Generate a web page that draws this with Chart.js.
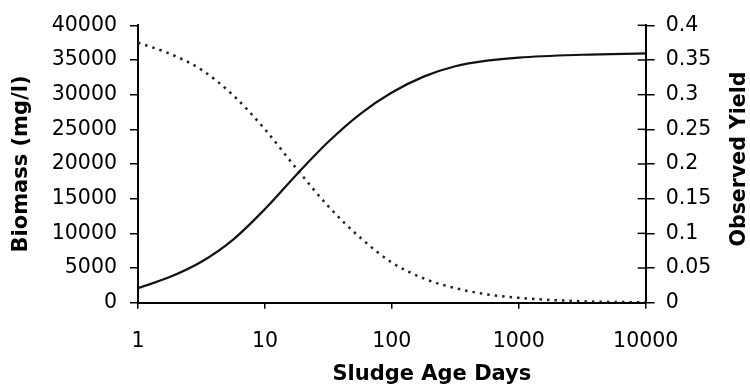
<!DOCTYPE html>
<html>
<head>
<meta charset="utf-8">
<script src="https://cdn.jsdelivr.net/npm/chart.js@4/dist/chart.umd.min.js"></script>
<style>
  html, body { margin: 0; padding: 0; background: #fff; }
  #wrap { width: 750px; height: 387px; }
</style>
</head>
<body>
<div id="wrap"><canvas id="sludgeChart" width="750" height="387"></canvas></div>
<script>
const sludgeAge = [1, 1.78, 3.16, 5.62, 10, 17.8, 31.6, 56.2, 100, 178, 316, 562, 1000, 3160, 10000];
const biomass = [2100, 3700, 5900, 9100, 13500, 18500, 23200, 27200, 30300, 32600, 34100, 34900, 35350, 35750, 35950];
const observedYield = [0.375, 0.359, 0.336, 0.299, 0.25, 0.193, 0.139, 0.094, 0.058, 0.035, 0.021, 0.012, 0.007, 0.002, 0.0005];
const xTicks = [1, 10, 100, 1000, 10000];
const biomassTicks = [0, 5000, 10000, 15000, 20000, 25000, 30000, 35000, 40000];
const yieldTicks = [0, 0.05, 0.1, 0.15, 0.2, 0.25, 0.3, 0.35, 0.4];

const FONT = "'DejaVu Sans', sans-serif";

// titles the library can't place the way the picture does
const axisTitles = {
  id: "axisTitles",
  afterDraw(chart) {
    const { ctx, chartArea } = chart;
    ctx.save();
    ctx.fillStyle = "#000";
    ctx.textAlign = "center";
    ctx.textBaseline = "middle";
    ctx.font = "bold 21px " + FONT;
    ctx.fillText("Sludge Age Days", (chartArea.left + chartArea.right) / 2 + 40, 375);
    ctx.font = "bold 20.5px " + FONT;
    ctx.translate(740, 159);
    ctx.rotate(-Math.PI / 2);
    ctx.fillText("Observed Yield", 0, 0);
    ctx.restore();
  }
};

// right axis ticks cross the line
const innerTicks = {
  id: "innerTicks",
  afterDatasetsDraw(chart) {
    const s = chart.scales.y2;
    const ctx = chart.ctx;
    ctx.save();
    ctx.strokeStyle = "#000";
    ctx.lineWidth = 1.5;
    s.ticks.forEach(t => {
      const y = s.getPixelForValue(t.value);
      ctx.beginPath();
      ctx.moveTo(s.left - 8, y);
      ctx.lineTo(s.left, y);
      ctx.stroke();
    });
    ctx.restore();
  }
};

new Chart(document.getElementById("sludgeChart"), {
  type: "line",
  data: {
    datasets: [{
      label: "Biomass",
      data: sludgeAge.map((d, i) => ({ x: d, y: biomass[i] })),
      borderColor: "#111",
      borderWidth: 2.2,
      pointRadius: 0,
      cubicInterpolationMode: "monotone",
      yAxisID: "y"
    }, {
      label: "Observed Yield",
      data: sludgeAge.map((d, i) => ({ x: d, y: observedYield[i] })),
      borderColor: "#222",
      borderWidth: 2.5,
      borderDash: [2.5, 5],
      pointRadius: 0,
      cubicInterpolationMode: "monotone",
      yAxisID: "y2"
    }]
  },
  options: {
    responsive: false,
    animation: false,
    devicePixelRatio: 1,
    layout: { padding: { top: 24, left: 0, right: 0, bottom: 0 } },
    plugins: { legend: { display: false }, tooltip: { enabled: false } },
    scales: {
      x: {
        type: "logarithmic",
        min: 1,
        max: 10000,
        afterBuildTicks: s => { s.ticks = xTicks.map(v => ({ value: v })); },
        afterFit: s => { s.height = 84.3; },
        border: { color: "#000", width: 2 },
        grid: { drawOnChartArea: false, color: "#000", tickLength: 6, lineWidth: 1.5 },
        ticks: {
          autoSkip: false, maxRotation: 0, padding: 21, color: "#000",
          font: { family: FONT, size: 20.5 },
          callback: v => String(v)
        }
      },
      y: {
        position: "left",
        min: 0,
        max: 40000,
        afterBuildTicks: s => { s.ticks = biomassTicks.map(v => ({ value: v })); },
        afterFit: s => { s.width = 138; },
        border: { color: "#000", width: 2 },
        grid: { drawOnChartArea: false, color: "#000", tickLength: 8, lineWidth: 1.5 },
        ticks: {
          padding: 13, color: "#000",
          font: { family: FONT, size: 20.5 },
          callback: v => String(v)
        },
        title: {
          display: true, text: "Biomass (mg/l)", color: "#000",
          font: { family: FONT, size: 21, weight: "bold" },
          padding: { top: 9, bottom: 0 }
        }
      },
      y2: {
        position: "right",
        min: 0,
        max: 0.4,
        afterBuildTicks: s => { s.ticks = yieldTicks.map(v => ({ value: v })); },
        afterFit: s => { s.width = 104.3; },
        border: { color: "#000", width: 2 },
        grid: { drawOnChartArea: false, color: "#000", tickLength: 9, lineWidth: 1.5 },
        ticks: {
          padding: 11, color: "#000",
          font: { family: FONT, size: 20.5 },
          callback: v => String(+v.toFixed(2))
        }
      }
    }
  },
  plugins: [axisTitles, innerTicks]
});
</script>
</body>
</html>
